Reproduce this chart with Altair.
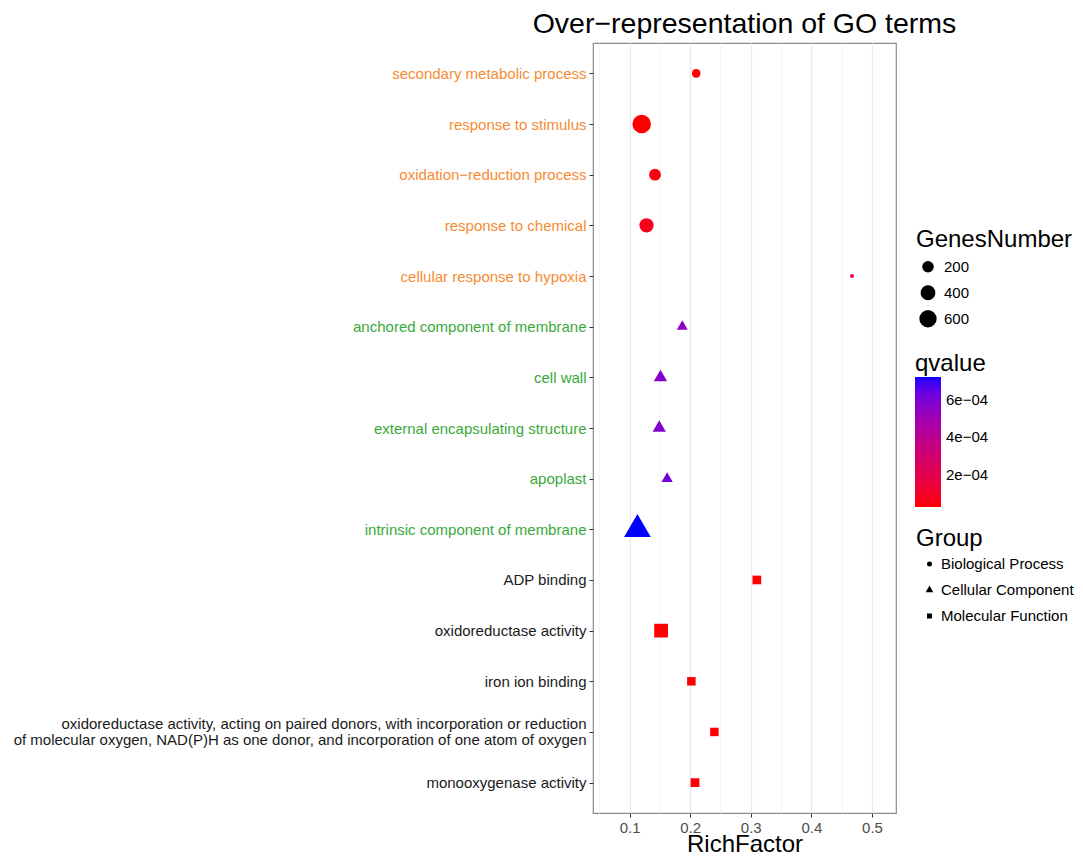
import json
import altair as alt
import numpy as np
import pandas as pd

# ---------------- data ----------------
terms = [
    "secondary metabolic process",
    "response to stimulus",
    "oxidation\u2212reduction process",
    "response to chemical",
    "cellular response to hypoxia",
    "anchored component of membrane",
    "cell wall",
    "external encapsulating structure",
    "apoplast",
    "intrinsic component of membrane",
    "ADP binding",
    "oxidoreductase activity",
    "iron ion binding",
    "oxidoreductase activity, acting on paired donors, with incorporation or reduction\n"
    "of molecular oxygen, NAD(P)H as one donor, and incorporation of one atom of oxygen",
    "monooxygenase activity",
]
groups = ["Biological Process"] * 5 + ["Cellular Component"] * 5 + ["Molecular Function"] * 5
rich_factor = [0.210, 0.120, 0.142, 0.128, 0.467,
               0.187, 0.151, 0.149, 0.162, 0.113,
               0.310, 0.152, 0.202, 0.240, 0.208]
genes_number = [82, 710, 214, 356, 10,
                46, 88, 86, 51, 620,
                85, 327, 80, 78, 88]
qvalue = [3.0e-05, 2.9e-05, 4.5e-05, 6.5e-05, 1.4e-04,
          5.5e-04, 5.8e-04, 5.8e-04, 6.2e-04, 7.2e-04,
          2.8e-05, 2.8e-05, 3.0e-05, 3.2e-05, 3.0e-05]

group_names = ["Biological Process", "Cellular Component", "Molecular Function"]
x_major = [0.1, 0.2, 0.3, 0.4, 0.5]
x_minor = [0.05, 0.15, 0.25, 0.35, 0.45]
size_breaks = [200, 400, 600]
q_breaks = [2e-04, 4e-04, 6e-04]

df = pd.DataFrame({
    "Term": terms,
    "Group": groups,
    "RichFactor": rich_factor,
    "GenesNumber": genes_number,
    "qvalue": qvalue,
})

FONT = "Liberation Sans"

# ggplot-like size mapping (diameter linear in sqrt of rescaled value)
gmin, gmax = min(genes_number), max(genes_number)
d_min, d_max = 4.4, 20.9
ts = np.linspace(0, 1, 41)
size_domain = [float(gmin + t * (gmax - gmin)) for t in ts]
size_range = [float(np.pi / 4 * (d_min + (d_max - d_min) * np.sqrt(t)) ** 2) for t in ts]

# R-like filled triangle (same area as circle)
tri_path = "M0,-1.754L1.519,0.877L-1.519,0.877Z"

def js_list(lst):
    return "[" + ",".join(json.dumps(s, ensure_ascii=False) for s in lst) + "]"

bp_terms = [t for t, g in zip(terms, groups) if g == "Biological Process"]
cc_terms = [t for t, g in zip(terms, groups) if g == "Cellular Component"]

y_label_color = {
    "condition": [
        {"test": f"indexof({js_list(bp_terms)}, datum.value) >= 0", "value": "#F68B33"},
        {"test": f"indexof({js_list(cc_terms)}, datum.value) >= 0", "value": "#3AA93A"},
    ],
    "value": "#1A1A1A",
}
multiline_test = "indexof(datum.value, '\\n') >= 0"

minor_test = "round(datum.value*100) % 10 == 5"

chart = alt.Chart(df).mark_point(filled=True, opacity=1, strokeWidth=0).encode(
    x=alt.X(
        "RichFactor:Q",
        scale=alt.Scale(domain=[0.0397, 0.5396], nice=False, zero=False),
        axis=alt.Axis(
            values=sorted(x_major + x_minor),
            labelExpr=f"{minor_test} ? '' : format(datum.value, '.1f')",
            title="RichFactor",
            titleFontSize=24,
            titleBaseline="alphabetic",
            titleY=38,
            labelPadding=3,
            labelColor="#4D4D4D",
            gridColor={"condition": {"test": minor_test, "value": "#F3F3F3"}, "value": "#EBEBEB"},
            gridWidth={"condition": {"test": minor_test, "value": 0.8}, "value": 1.3},
            tickOpacity={"condition": {"test": minor_test, "value": 0}, "value": 1},
        ),
    ),
    y=alt.Y(
        "Term:N",
        sort=terms,
        scale=alt.Scale(type="point", padding=0.6),
        axis=alt.Axis(
            title=None,
            labelExpr="split(datum.label, '\\n')",
            labelColor=y_label_color,
            labelOffset={"condition": {"test": multiline_test, "value": -8}, "value": 0},
            labelLimit=800,
            labelPadding=3,
            labelLineHeight=16,
            gridColor="#EBEBEB",
            gridWidth=1.3,
        ),
    ),
    size=alt.Size(
        "GenesNumber:Q",
        scale=alt.Scale(domain=size_domain, range=size_range, zero=False, nice=False),
        legend=alt.Legend(
            title="GenesNumber", orient="none", legendX=323, legendY=185,
            values=size_breaks, symbolType="circle", symbolFillColor="black",
            symbolStrokeWidth=0, clipHeight=25.5, rowPadding=0,
            symbolOffset=3, labelOffset=7, titlePadding=2, padding=0,
        ),
    ),
    color=alt.Color(
        "qvalue:Q",
        scale=alt.Scale(range=["#FF0000", "#0000FF"], interpolate="lab", zero=False, nice=False),
        legend=alt.Legend(
            title="qvalue", orient="none", legendX=322, legendY=309,
            values=q_breaks, gradientLength=130, gradientThickness=26,
            labelExpr="replace(format(datum.value, '.0e'), 'e-', 'e\u22120')",
            labelOffset=5, titlePadding=1, gradientStrokeWidth=0, padding=0,
            direction="vertical", labelOverlap=False,
        ),
    ),
    shape=alt.Shape(
        "Group:N",
        scale=alt.Scale(domain=group_names, range=["circle", tri_path, "square"]),
        legend=alt.Legend(
            title="Group", orient="none", legendX=323, legendY=484,
            symbolSize=25, symbolFillColor="black", symbolStrokeWidth=0,
            clipHeight=26, rowPadding=0, symbolOffset=6, labelOffset=4,
            titlePadding=0, padding=0,
        ),
    ),
).properties(
    width=303,
    height=770,
    title=alt.TitleParams(
        "Over\u2212representation of GO terms",
        fontSize=28.5, font=FONT, fontWeight="normal", color="black",
        anchor="middle", frame="group", offset=5,
    ),
    autosize=alt.AutoSizeParams(type="none"),
    padding={"left": 585, "top": 35, "right": 179, "bottom": 40},
).configure_view(
    stroke="#8C8C8C", strokeWidth=1.2,
).configure_axis(
    labelFont=FONT, titleFont=FONT, labelFontSize=15,
    titleFontWeight="normal", titleColor="black",
    domain=False, tickColor="#333333", tickSize=4, tickWidth=1,
).configure_legend(
    titleFont=FONT, labelFont=FONT, titleFontSize=24, titleFontWeight="normal",
    titleColor="black", labelFontSize=15, labelColor="black",
)

chart.save("out.html", embed_options={"renderer": "svg", "actions": False})
